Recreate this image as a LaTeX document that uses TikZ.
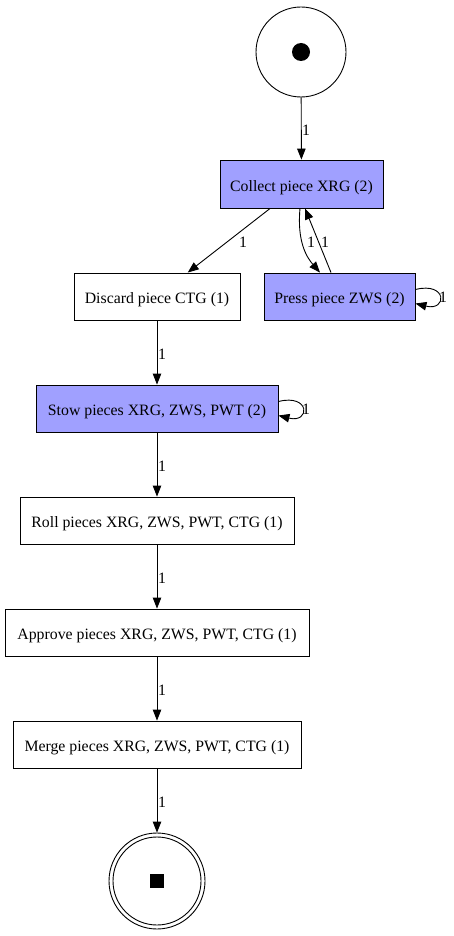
\documentclass[tikz,border=0pt]{standalone}
\usepackage{fontspec}
\setmainfont{Liberation Serif}
\usetikzlibrary{arrows.meta}
\definecolor{actfill}{RGB}{160,160,255}
\begin{document}
\begin{tikzpicture}[x=1pt,y=-1pt,
  every node/.style={font=\fontsize{15.8}{18}\selectfont},
  box/.style={draw, line width=0.9pt, inner sep=0pt, anchor=center, text height=14pt, text depth=0pt},
  hot/.style={box, fill=actfill},
  lbl/.style={inner sep=0pt, anchor=center},
  arr/.style={draw, line width=0.9pt, -{Triangle[length=11pt,width=8.5pt]}}
]
\useasboundingbox (0,0) rectangle (453,936);
% places
\node[draw, circle, line width=0.9pt, minimum size=90pt, inner sep=0pt] (start) at (301,52) {};
\fill (start.center) circle (9pt);
\node[draw, circle, line width=0.9pt, minimum size=96pt, inner sep=0pt] (endo) at (157,881) {};
\node[draw, circle, line width=0.9pt, minimum size=88pt, inner sep=0pt] (endi) at (157,881) {};
\fill ([xshift=-7pt,yshift=-7pt]endi.center) rectangle ([xshift=7pt,yshift=7pt]endi.center);
% transitions
\node[hot, minimum width=163pt, minimum height=48pt] (collect) at (301.5,184) {Collect piece XRG (2)};
\node[box, minimum width=166pt, minimum height=47pt] (discard) at (157,296.5) {Discard piece CTG (1)};
\node[hot, minimum width=151pt, minimum height=47pt] (press) at (339.5,296.5) {Press piece ZWS (2)};
\node[hot, minimum width=242pt, minimum height=47pt] (stow) at (157,408.5) {Stow pieces XRG, ZWS, PWT (2)};
\node[box, minimum width=274pt, minimum height=47pt] (roll) at (157,520.5) {Roll pieces XRG, ZWS, PWT, CTG (1)};
\node[box, minimum width=304pt, minimum height=47pt] (approve) at (157,632.5) {Approve pieces XRG, ZWS, PWT, CTG (1)};
\node[box, minimum width=288pt, minimum height=47pt] (merge) at (157,744.5) {Merge pieces XRG, ZWS, PWT, CTG (1)};
% edges
\draw[arr] (start) -- (collect);
\node[lbl] (l1) at (306,130) {1};
\draw[arr] (collect) -- (discard);
\node[lbl] (l2) at (243,242) {1};
\draw[arr] ([xshift=-1.5pt]collect.south) .. controls +(-3,32) and +(-14,-16) .. ([xshift=-19.5pt]press.north);
\node[lbl] (l3) at (311,242) {1};
\draw[arr] ([xshift=-8.5pt]press.north) -- ([xshift=3.5pt]collect.south);
\node[lbl] (l4) at (325,242) {1};
\draw[arr] ([yshift=7pt]press.east) .. controls +(32,-8) and +(32,8) .. ([yshift=-7pt]press.east);
\node[lbl] (l5) at (443,297) {1};
\draw[arr] (discard) -- (stow);
\node[lbl] (l6) at (162,354) {1};
\draw[arr] ([yshift=7pt]stow.east) .. controls +(32,-8) and +(32,8) .. ([yshift=-7pt]stow.east);
\node[lbl] (l7) at (306,409) {1};
\draw[arr] (stow) -- (roll);
\node[lbl] (l8) at (162,466) {1};
\draw[arr] (roll) -- (approve);
\node[lbl] (l9) at (162,578) {1};
\draw[arr] (approve) -- (merge);
\node[lbl] (l10) at (162,690) {1};
\draw[arr] (merge) -- (endo);
\node[lbl] (l11) at (162,802) {1};
\end{tikzpicture}
\end{document}
